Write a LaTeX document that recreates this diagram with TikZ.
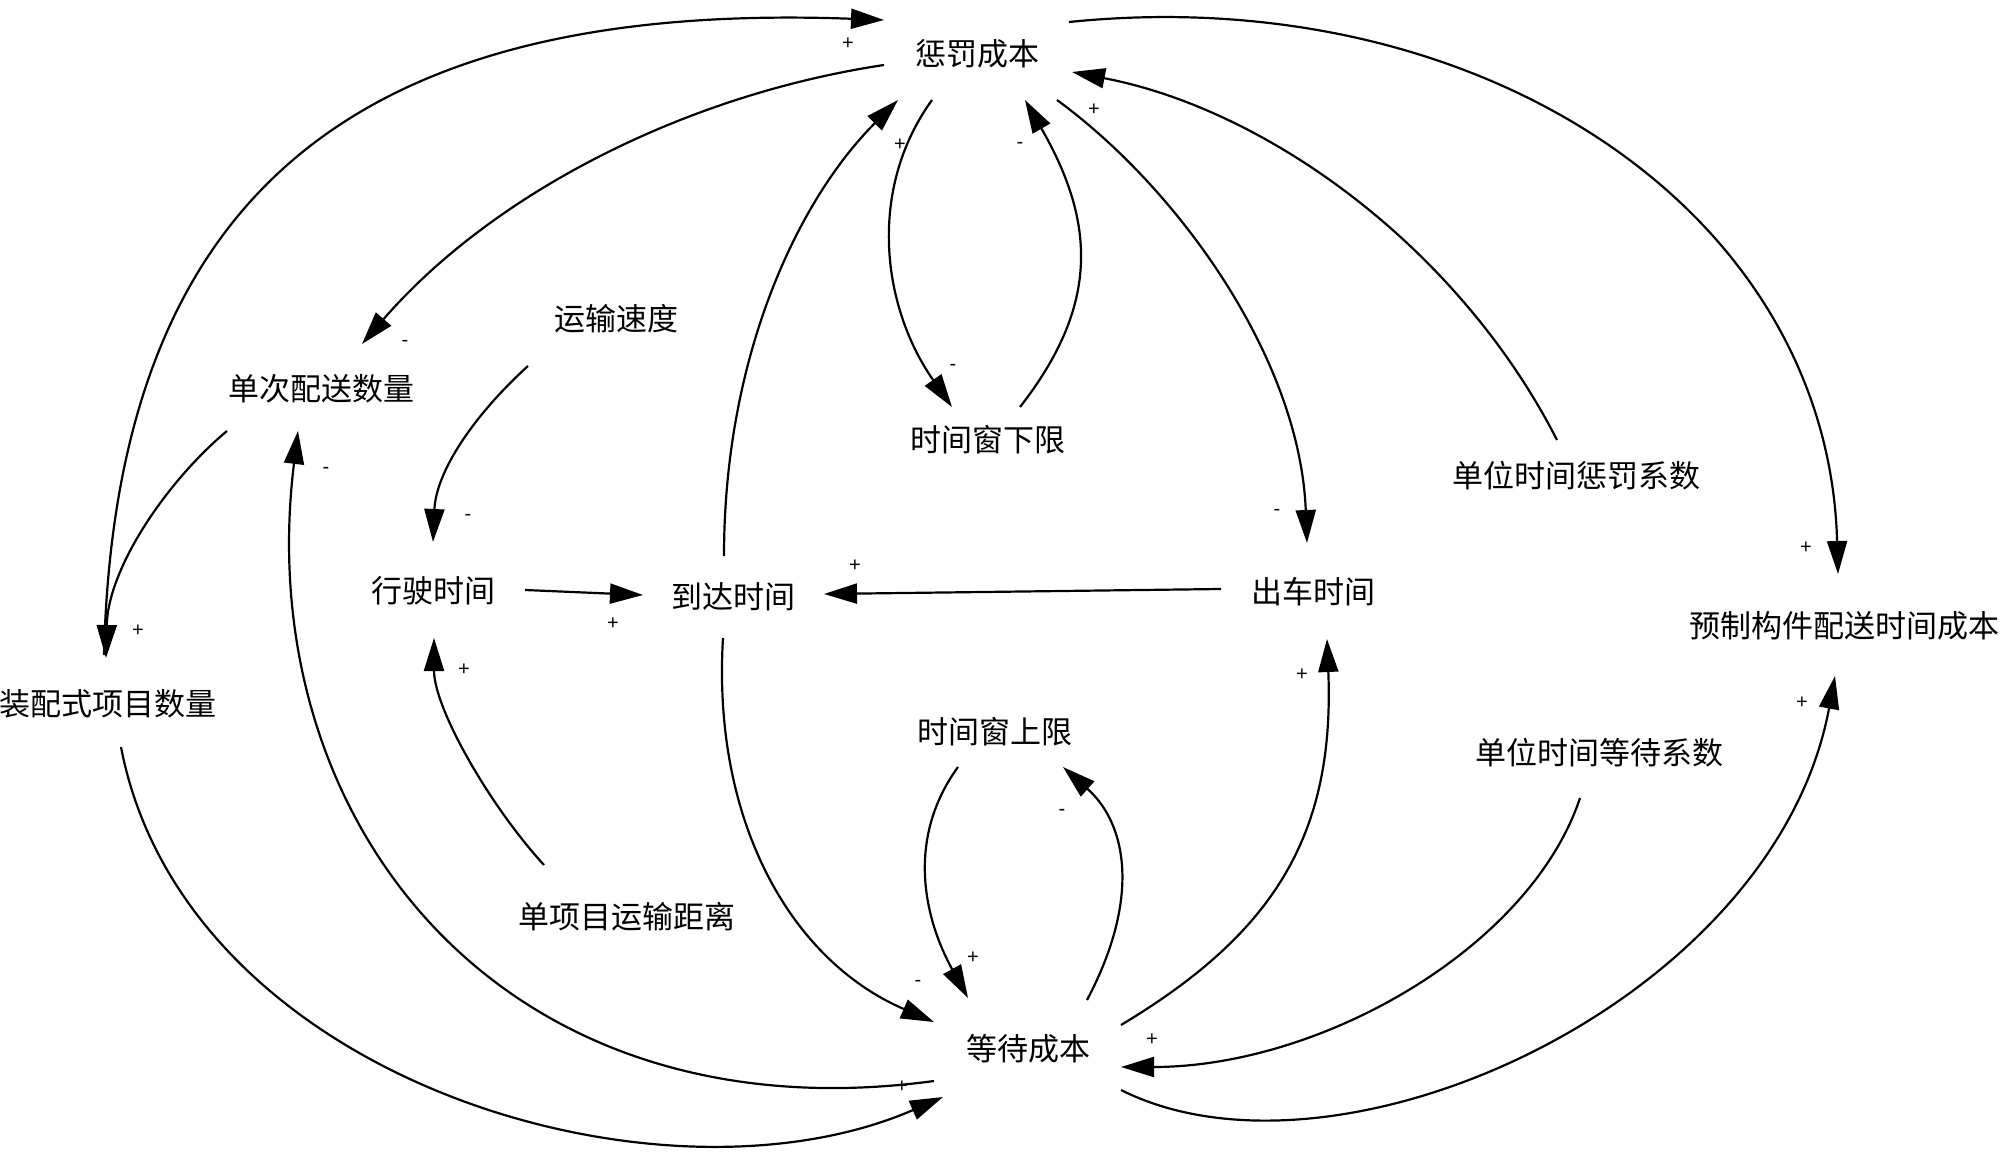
\documentclass[tikz,border=0pt]{standalone}
\usepackage{fontspec}
\setmainfont{Noto Sans CJK SC}
\newfontfamily\signfont{Liberation Sans}
\usetikzlibrary{arrows.meta}
\tikzset{
  lbl/.style={inner sep=0pt, font=\fontsize{31}{34}\selectfont},
  sgn/.style={inner sep=0pt, font=\signfont\fontsize{20}{22}\selectfont},
  link/.style={line width=2.2pt, -{Triangle[length=33pt,width=20pt]}}
}
\begin{document}
\begin{tikzpicture}[x=1pt,y=-1pt]
\useasboundingbox (0,0) rectangle (2000,1161);
% nodes
\node[lbl] (pen) at (977,54) {惩罚成本};
\node[lbl] (dan) at (321,389) {单次配送数量};
\node[lbl] (ysd) at (616,319) {运输速度};
\node[lbl] (xia) at (988,440) {时间窗下限};
\node[lbl] (upc) at (1576,476) {单位时间惩罚系数};
\node[lbl] (xs) at (433,591) {行驶时间};
\node[lbl] (dd) at (733,597) {到达时间};
\node[lbl] (cc) at (1313,592) {出车时间};
\node[lbl] (yz) at (1844,626) {预制构件配送时间成本};
\node[lbl] (zp) at (108,704) {装配式项目数量};
\node[lbl] (shang) at (995,732) {时间窗上限};
\node[lbl] (uwc) at (1599,753) {单位时间等待系数};
\node[lbl] (dist) at (627,917) {单项目运输距离};
\node[lbl] (wait) at (1028,1049) {等待成本};
% connectors
\draw[link] ([shift={(-94,42)}]dan.center) .. controls +(-60,50) and +(2,-90) .. ([shift={(-2,-46)}]zp.center);
\draw[link] ([shift={(-4,-49)}]zp.center) .. controls +(11,-455) and +(-534,-20) .. ([shift={(-93,-34)}]pen.center);
\draw[link] ([shift={(-93,11)}]pen.center) .. controls +(-200,30) and +(130,-150) .. ([shift={(41,-45)}]dan.center);
\draw[link] ([shift={(-88,47)}]ysd.center) .. controls +(-55,50) and +(3,-70) .. ([shift={(0,-49)}]xs.center);
\draw[link] ([shift={(92,-1)}]xs.center) -- ([shift={(-90,-2)}]dd.center);
\draw[link] ([shift={(-92,-3)}]cc.center) -- ([shift={(91,-3)}]dd.center);
\draw[link] ([shift={(-83,-52)}]dist.center) .. controls +(-55,-60) and +(0,70) .. ([shift={(1,47)}]xs.center);
\draw[link] ([shift={(-94,32)}]wait.center) .. controls +(-434,59) and +(-48,389) .. ([shift={(-23,42)}]dan.center);
\draw[link] ([shift={(-9,-41)}]dd.center) .. controls +(0,-200) and +(-100,100) .. ([shift={(-79,46)}]pen.center);
\draw[link] ([shift={(-45,46)}]pen.center) .. controls +(-65,90) and +(-70,-100) .. ([shift={(-36,-33)}]xia.center);
\draw[link] ([shift={(32,-33)}]xia.center) .. controls +(78,-100) and +(72,125) .. ([shift={(48,46)}]pen.center);
\draw[link] ([shift={(80,46)}]pen.center) .. controls +(123,90) and +(-7,-183) .. ([shift={(-6,-49)}]cc.center);
\draw[link] ([shift={(-19,-36)}]upc.center) .. controls +(-97,-190) and +(198,38) .. ([shift={(95,18)}]pen.center);
\draw[link] ([shift={(92,-32)}]pen.center) .. controls +(411,-42) and +(-10,-364) .. ([shift={(-6,-52)}]yz.center);
\draw[link] ([shift={(-10,41)}]dd.center) .. controls +(-11,182) and +(-144,-62) .. ([shift={(-94,-27)}]wait.center);
\draw[link] ([shift={(-37,35)}]shang.center) .. controls +(-53,73) and +(-43,-78) .. ([shift={(-60,-51)}]wait.center);
\draw[link] ([shift={(59,-49)}]wait.center) .. controls +(53,-100) and +(65,58) .. ([shift={(68,35)}]shang.center);
\draw[link] ([shift={(93,-24)}]wait.center) .. controls +(150,-90) and +(8,199) .. ([shift={(14,47)}]cc.center);
\draw[link] ([shift={(-19,45)}]uwc.center) .. controls +(-50,150) and +(200,0) .. ([shift={(93,18)}]wait.center);
\draw[link] ([shift={(93,41)}]wait.center) .. controls +(219,110) and +(-60,324) .. ([shift={(-9,50)}]yz.center);
\draw[link] ([shift={(13,43)}]zp.center) .. controls +(64,333) and +(-283,123) .. ([shift={(-85,48)}]wait.center);
% polarity signs
\node[sgn] (s1) at (138,631) {+};
\node[sgn] (s2) at (848,44) {+};
\node[sgn] (s3) at (405,343) {-};
\node[sgn] (s4) at (468,517) {-};
\node[sgn] (s5) at (613,624) {+};
\node[sgn] (s6) at (855,566) {+};
\node[sgn] (s7) at (464,670) {+};
\node[sgn] (s8) at (326,470) {-};
\node[sgn] (s9) at (900,145) {+};
\node[sgn] (s10) at (953,367) {-};
\node[sgn] (s11) at (1020,145) {-};
\node[sgn] (s12) at (1277,512) {-};
\node[sgn] (s13) at (1094,110) {+};
\node[sgn] (s14) at (1806,548) {+};
\node[sgn] (s15) at (918,983) {-};
\node[sgn] (s16) at (973,958) {+};
\node[sgn] (s17) at (1062,812) {-};
\node[sgn] (s18) at (1302,675) {+};
\node[sgn] (s19) at (1152,1040) {+};
\node[sgn] (s20) at (1802,703) {+};
\node[sgn] (s21) at (902,1087) {+};
\end{tikzpicture}
\end{document}
